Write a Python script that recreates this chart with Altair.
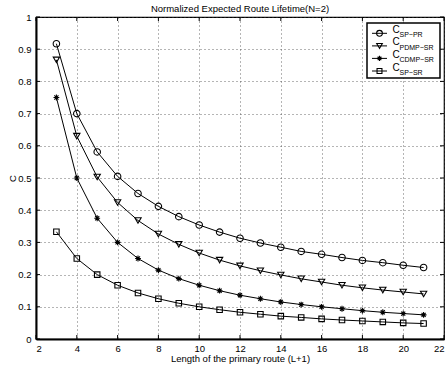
import altair as alt
import pandas as pd

# ---- data ----
route_len = list(range(3, 22))
c_sp_pr = [0.917, 0.700, 0.581, 0.505, 0.452, 0.412, 0.380, 0.354, 0.332, 0.313,
           0.298, 0.285, 0.272, 0.263, 0.253, 0.244, 0.237, 0.229, 0.222]
c_pdmp_sr = [0.867, 0.630, 0.503, 0.424, 0.368, 0.326, 0.294, 0.267, 0.245, 0.227,
             0.212, 0.199, 0.187, 0.177, 0.167, 0.159, 0.152, 0.146, 0.140]
c_cdmp_sr = [0.750, 0.500, 0.375, 0.300, 0.250, 0.214, 0.1875, 0.167, 0.150, 0.136,
             0.125, 0.115, 0.107, 0.100, 0.094, 0.088, 0.083, 0.079, 0.075]
c_sp_sr = [0.333, 0.250, 0.200, 0.167, 0.143, 0.125, 0.111, 0.100, 0.091, 0.083,
           0.077, 0.071, 0.067, 0.0625, 0.059, 0.056, 0.053, 0.050, 0.048]

series_names = ["SP-PR", "PDMP-SR", "CDMP-SR", "SP-SR"]
series_subs = ["SP\u2212PR", "PDMP\u2212SR", "CDMP\u2212SR", "SP\u2212SR"]
series_values = [c_sp_pr, c_pdmp_sr, c_cdmp_sr, c_sp_sr]

x_ticks = list(range(2, 23, 2))
y_ticks = [round(0.1 * i, 1) for i in range(11)]

title_text = "Normalized Expected Route Lifetime(N=2)"
x_title = "Length of the primary route (L+1)"
y_title = "C"

FONT = "Liberation Sans"
W, H = 408, 322

asterisk = ("M-1,0L1,0M0,-1L0,1M-0.7,-0.7L0.7,0.7M-0.7,0.7L0.7,-0.7")
marker_shapes = ["circle", "triangle-down", asterisk, "square"]
marker_sizes = [42, 40, 34, 30]

xs = alt.Scale(domain=[2, 22], nice=False, zero=False)
ys = alt.Scale(domain=[0, 1], nice=False)

x_axis = alt.Axis(values=x_ticks, format="d", grid=True, tickSize=0,
                  labelPadding=4, labelOverlap=False, titleY=19,
                  titleBaseline="middle", titleX=W / 2)
y_axis = alt.Axis(values=y_ticks, grid=True, tickSize=0, labelPadding=5,
                  labelOverlap=False,
                  labelExpr="datum.value == 0 ? '0' : datum.value == 1 ? '1' : format(datum.value, '.1f')",
                  titleX=-24, titleY=H / 2, titleBaseline="middle",
                  titleAlign="center", titleAngle=-90)


def X(field="L"):
    return alt.X(f"{field}:Q", scale=xs, title=x_title, axis=x_axis)


def Y(field="C"):
    return alt.Y(f"{field}:Q", scale=ys, title=y_title, axis=y_axis)


layers = []
for name, vals, shp, sz in zip(series_names, series_values, marker_shapes, marker_sizes):
    df = pd.DataFrame({"L": route_len, "C": vals, "series": name})
    base = alt.Chart(df).encode(x=X(), y=Y())
    layers.append(base.mark_line(color="black", strokeWidth=1))
    layers.append(base.mark_point(shape=shp, size=sz, color="black", filled=False,
                                  strokeWidth=1.1, opacity=1))

# inward ticks
xt = pd.DataFrame({"L": x_ticks})
yt = pd.DataFrame({"C": y_ticks})
tick_layers = [
    alt.Chart(xt).mark_rule(color="black", strokeWidth=1).encode(
        x=X(), y=alt.value(H), y2=alt.value(H - 4)),
    alt.Chart(xt).mark_rule(color="black", strokeWidth=1).encode(
        x=X(), y=alt.value(0), y2=alt.value(4)),
    alt.Chart(yt).mark_rule(color="black", strokeWidth=1).encode(
        y=Y(), x=alt.value(0), x2=alt.value(4)),
    alt.Chart(yt).mark_rule(color="black", strokeWidth=1).encode(
        y=Y(), x=alt.value(W), x2=alt.value(W - 4)),
]

one = pd.DataFrame({"k": [0]})

# title as text
title_layer = alt.Chart(one).mark_text(text=title_text, font=FONT, fontSize=9.5,
                                       align="center", baseline="middle",
                                       color="black").encode(
    x=alt.value(W / 2), y=alt.value(-8.5))

# manual legend
leg = [alt.Chart(one).mark_rect(fill="white", stroke="black", strokeWidth=1.5).encode(
    x=alt.value(331), x2=alt.value(404), y=alt.value(6), y2=alt.value(61))]
row_y = [16.3, 28.9, 41.4, 54.0]
for ry, shp, sz, sub in zip(row_y, marker_shapes, marker_sizes, series_subs):
    leg.append(alt.Chart(one).mark_rule(color="black", strokeWidth=1).encode(
        x=alt.value(336), x2=alt.value(351), y=alt.value(ry)))
    leg.append(alt.Chart(one).mark_point(shape=shp, size=sz * 0.8, color="black",
                                         filled=False, strokeWidth=1.1, opacity=1).encode(
        x=alt.value(343.5), y=alt.value(ry)))
    leg.append(alt.Chart(one).mark_text(text="C", font=FONT, fontSize=10, align="left",
                                        baseline="middle", color="black").encode(
        x=alt.value(356.5), y=alt.value(ry - 3.5)))
    leg.append(alt.Chart(one).mark_text(text=sub, font=FONT, fontSize=7, align="left",
                                        baseline="middle", color="black").encode(
        x=alt.value(363.5), y=alt.value(ry + 2)))

chart = alt.layer(*layers, *tick_layers, title_layer, *leg).properties(
    width=W, height=H,
    autosize=alt.AutoSizeParams(type="none"),
    padding={"left": 36, "top": 17, "right": 4, "bottom": 29},
).configure_view(stroke="black", strokeWidth=1.2).configure_axis(
    labelFont=FONT, labelFontSize=9.5, labelColor="black",
    titleFont=FONT, titleFontSize=9.5, titleFontWeight="normal", titleColor="black",
    domainColor="black", domainWidth=2,
    gridColor="#444", gridDash=[1, 3], gridWidth=0.8, gridOpacity=1,
)

chart.save("out.html", embed_options={"renderer": "svg", "actions": False})
